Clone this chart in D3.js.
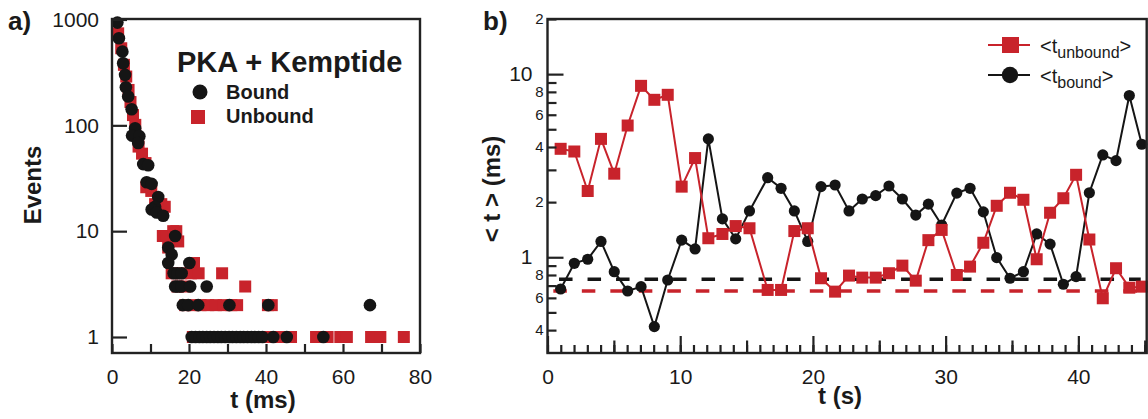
<!DOCTYPE html>
<html><head><meta charset="utf-8">
<script src="https://cdn.jsdelivr.net/npm/d3@7"></script>
<style>
body{margin:0;background:#fff;}
svg{display:block;font-family:"Liberation Sans",Arial,sans-serif;}
</style></head>
<body><svg id="c" width="1148" height="419"></svg>
<script>
// ---------- Panel a data: dwell-time histograms ----------
const boundT = [1.4,1.8,2.7,2.9,3.4,3.6,4.2,5.1,6.0,5.2,7.1,6.8,8.1,9.4,9.0,10.3,12.0,11.2,10.3,11.6,13.3,16.4,14.6,15.5,14.6,20.1,
  16.0,17.0,18.1,16.4,17.1,18.0,20.3,24.6,18.4,19.8,22.4,30.5,40.6,67.0,
  20.7,21.7,22.7,23.6,24.6,25.5,26.5,27.5,28.4,29.4,30.4,31.3,32.3,33.3,34.2,35.2,36.2,37.1,38.1,39.1,41.9,45.4,54.9];
const boundN = [935,665,497,386,300,229,187,142,94,80,79,68,43,42,29,28,21,17,16,15,14,9,7,6,5,5,
  4,4,4,3,3,3,3,3,2,2,2,2,2,2,
  1,1,1,1,1,1,1,1,1,1,1,1,1,1,1,1,1,1,1,1,1,1,1];
const unboundT = [1.6,2.4,3.1,3.7,4.3,4.8,5.45,6.05,6.9,7.8,8.7,8.9,10.2,11.2,12.8,13.7,13.2,14.2,16.7,15.9,17.2,14.6,
  15.5,18.0,20.5,22.5,28.6,21.3,17.0,19.0,34.6,
  19,21,23,25,27,29,31,32.5,40.5,41.5,
  21,22,23,24,25,26,27,28,29,30,31,32,33,34,35,36,37,38,39,40,41,42,43,44,45,46.5,53,56,59.3,61,67.3,69.7,75.8];
const unboundN = [740,535,373,289,216,166,125,101,63,54,44,26,24,18,18,17,9,9,10,10,8,7,
  4,4,4,4,4,5,3,3,3,
  2,2,2,2,2,2,2,2,2,2,
  1,1,1,1,1,1,1,1,1,1,1,1,1,1,1,1,1,1,1,1,1,1,1,1,1,1,1,1,1,1,1,1,1];
const xTicksA = [0,10,20,30,40,50,60,70,80];
const xLabelsA = [0,20,40,60,80];
const yTicksA = [1,10,100,1000];

// ---------- Panel b data: mean dwell times vs time ----------
const timeS = [0.99,2.02,3.03,4.03,5.03,6.04,7.05,8.05,9.06,10.11,11.12,12.12,13.18,14.18,15.22,
  16.59,17.6,18.6,19.61,20.61,21.67,22.72,23.72,24.73,25.73,26.74,27.75,28.7,29.7,
  30.84,31.84,32.84,33.85,34.85,35.86,36.86,37.87,38.87,39.83,40.83,41.84,42.84,43.84,44.78];
const tUnbound = [3.91,3.78,2.30,4.43,2.86,5.24,8.63,7.24,7.71,2.43,3.48,1.27,1.34,1.48,1.44,
  0.663,0.663,1.39,1.44,0.768,0.649,0.794,0.774,0.774,0.818,0.900,0.745,1.24,1.41,
  0.80,0.889,1.20,1.91,2.25,2.06,0.975,1.75,2.10,2.82,1.25,0.597,0.871,0.682,0.691];
const tBound = [0.671,0.927,0.975,1.22,0.834,0.654,0.691,0.418,0.751,1.24,1.11,4.43,1.62,1.26,1.79,
  2.72,2.38,1.79,1.22,2.43,2.48,1.79,2.08,2.17,2.45,2.08,1.70,1.95,1.50,
  2.24,2.38,1.77,0.995,0.768,0.834,1.34,1.18,0.712,0.784,2.25,3.62,3.37,7.64,4.14];
const meanBound = 0.758, meanUnbound = 0.654;
const xTicksB = [0,10,20,30,40];
const yMajorB = [1,10];
const yMinorB = [0.4,0.5,0.6,0.7,0.8,0.9,2,3,4,5,6,7,8,9,20];
const yMinorLabelled = [0.4,0.6,0.8,2,4,6,8,20];

const RED = "#c8232b", BLK = "#151515", AX = "#222";
const svg = d3.select("#c");

// ================= Panel a =================
const xA = d3.scaleLinear([0,80],[112,420]);
const yA = d3.scaleLog([1,1000],[337,19.5]);
const gA = svg.append("g");

// markers
gA.append("g").selectAll("rect").data(unboundT.map((t,i)=>[t,unboundN[i]])).join("rect")
  .attr("x",d=>xA(d[0])-6).attr("y",d=>yA(d[1])-6).attr("width",12).attr("height",12).attr("fill",RED);
gA.append("g").selectAll("circle").data(boundT.map((t,i)=>[t,boundN[i]])).join("circle")
  .attr("cx",d=>xA(d[0])).attr("cy",d=>yA(d[1])).attr("r",6.3).attr("fill",BLK);

// axes
const axA_y = gA.append("g").attr("transform","translate(112,0)")
  .call(d3.axisLeft(yA).tickValues(yTicksA).tickFormat(d3.format("d")).tickSize(-15).tickPadding(13));
const axA_x = gA.append("g").attr("transform","translate(0,353)")
  .call(d3.axisBottom(xA).tickValues(xTicksA).tickFormat(d=>xLabelsA.includes(d)?d:"").tickSize(-9).tickPadding(16));
[axA_y,axA_x].forEach(a=>{a.select(".domain").remove();
  a.selectAll("line").attr("stroke",AX).attr("stroke-width",2.2);
  a.selectAll("text").attr("font-size",21).attr("fill","#1a1a1a").attr("font-family","Liberation Sans, Arial, sans-serif");});
gA.append("rect").attr("x",112).attr("y",19).attr("width",308).attr("height",334)
  .attr("fill","none").attr("stroke",AX).attr("stroke-width",2.4);

// legend a
gA.append("text").attr("x",177).attr("y",72).attr("font-size",29).attr("font-weight","bold").attr("fill","#1a1a1a").text("PKA + Kemptide");
gA.append("circle").attr("cx",200).attr("cy",92).attr("r",7.5).attr("fill",BLK);
gA.append("text").attr("x",226).attr("y",99).attr("font-size",20).attr("font-weight","bold").attr("fill","#1a1a1a").text("Bound");
gA.append("rect").attr("x",191).attr("y",110).attr("width",14).attr("height",14).attr("fill",RED);
gA.append("text").attr("x",226).attr("y",123).attr("font-size",20).attr("font-weight","bold").attr("fill","#1a1a1a").text("Unbound");

// titles a
svg.append("text").attr("x",8).attr("y",30).attr("font-size",26).attr("font-weight","bold").attr("fill","#1a1a1a").text("a)");
svg.append("text").attr("transform","translate(33,185) rotate(-90)").attr("text-anchor","middle").attr("dy","0.35em")
  .attr("font-size",24).attr("font-weight","bold").attr("fill","#1a1a1a").text("Events");
svg.append("text").attr("x",263).attr("y",408).attr("text-anchor","middle")
  .attr("font-size",24).attr("font-weight","bold").attr("fill","#1a1a1a").text("t (ms)");

// ================= Panel b =================
const xB = d3.scaleLinear([0,45.15],[547.5,1146.7]);
const yB = d3.scaleLog([0.3,20],[353,19]);
const gB = svg.append("g");

// dashed mean lines
gB.append("line").attr("x1",xB(0.87)).attr("x2",xB(44.7)).attr("y1",yB(meanBound)).attr("y2",yB(meanBound))
  .attr("stroke",BLK).attr("stroke-width",3.5).attr("stroke-dasharray","13.5,15");
gB.append("line").attr("x1",xB(0.44)).attr("x2",xB(44.7)).attr("y1",yB(meanUnbound)).attr("y2",yB(meanUnbound))
  .attr("stroke",RED).attr("stroke-width",3.5).attr("stroke-dasharray","13.5,15");

const lineB = d3.line().x(d=>xB(d[0])).y(d=>yB(d[1]));
const bData = timeS.map((t,i)=>[t,tBound[i]]);
const uData = timeS.map((t,i)=>[t,tUnbound[i]]);
gB.append("path").attr("d",lineB(bData)).attr("fill","none").attr("stroke",BLK).attr("stroke-width",2);
gB.append("g").selectAll("circle").data(bData).join("circle")
  .attr("cx",d=>xB(d[0])).attr("cy",d=>yB(d[1])).attr("r",5.6).attr("fill",BLK);
gB.append("path").attr("d",lineB(uData)).attr("fill","none").attr("stroke",RED).attr("stroke-width",2);
gB.append("g").selectAll("rect").data(uData).join("rect")
  .attr("x",d=>xB(d[0])-6).attr("y",d=>yB(d[1])-6).attr("width",12).attr("height",12).attr("fill",RED);

// axes b
function styleAx(a,fs){a.select(".domain").remove();
  a.selectAll("line").attr("stroke",AX).attr("stroke-width",2.2);
  a.selectAll("text").attr("font-size",fs).attr("fill","#1a1a1a").attr("font-family","Liberation Sans, Arial, sans-serif");}
styleAx(gB.append("g").attr("transform","translate(547.5,0)")
  .call(d3.axisLeft(yB).tickValues(yMinorB).tickFormat(d=>yMinorLabelled.includes(d)?String(d).replace("0.","").replace(/0$/,""):"").tickSize(-9).tickPadding(4)),15);
styleAx(gB.append("g").attr("transform","translate(547.5,0)")
  .call(d3.axisLeft(yB).tickValues(yMajorB).tickFormat(d3.format("d")).tickSize(-16).tickPadding(15)),21);
styleAx(gB.append("g").attr("transform","translate(0,353)")
  .call(d3.axisBottom(xB).tickValues(d3.range(0,46)).tickFormat("").tickSize(-8)),15);
styleAx(gB.append("g").attr("transform","translate(0,353)")
  .call(d3.axisBottom(xB).tickValues([5,15,25,35,45]).tickFormat("").tickSize(-12.5)),15);
styleAx(gB.append("g").attr("transform","translate(0,353)")
  .call(d3.axisBottom(xB).tickValues(xTicksB).tickFormat(d3.format("d")).tickSize(-17).tickPadding(16)),21);
gB.append("rect").attr("x",547.5).attr("y",19).attr("width",599.2).attr("height",334)
  .attr("fill","none").attr("stroke",AX).attr("stroke-width",2.4);

// legend b
gB.append("line").attr("x1",988).attr("x2",1030).attr("y1",45).attr("y2",45).attr("stroke",RED).attr("stroke-width",2.2);
gB.append("rect").attr("x",1002).attr("y",37).attr("width",17).attr("height",16).attr("fill",RED);
const t1 = gB.append("text").attr("x",1040).attr("y",53).attr("font-size",20).attr("fill","#1a1a1a");
t1.append("tspan").text("<t");
t1.append("tspan").attr("font-size",16).attr("dy",5).text("unbound");
t1.append("tspan").attr("dy",-5).text(">");
gB.append("line").attr("x1",988).attr("x2",1030).attr("y1",75).attr("y2",75).attr("stroke",BLK).attr("stroke-width",2.2);
gB.append("circle").attr("cx",1010).attr("cy",75).attr("r",8.2).attr("fill",BLK);
const t2 = gB.append("text").attr("x",1040).attr("y",83).attr("font-size",20).attr("fill","#1a1a1a");
t2.append("tspan").text("<t");
t2.append("tspan").attr("font-size",16).attr("dy",5).text("bound");
t2.append("tspan").attr("dy",-5).text(">");

// titles b
svg.append("text").attr("x",483).attr("y",30).attr("font-size",26).attr("font-weight","bold").attr("fill","#1a1a1a").text("b)");
svg.append("text").attr("transform","translate(492,189) rotate(-90)").attr("text-anchor","middle").attr("dy","0.35em")
  .attr("font-size",24).attr("font-weight","bold").attr("fill","#1a1a1a").text("< t > (ms)");
svg.append("text").attr("x",840).attr("y",404).attr("text-anchor","middle")
  .attr("font-size",24).attr("font-weight","bold").attr("fill","#1a1a1a").text("t (s)");
</script></body></html>
